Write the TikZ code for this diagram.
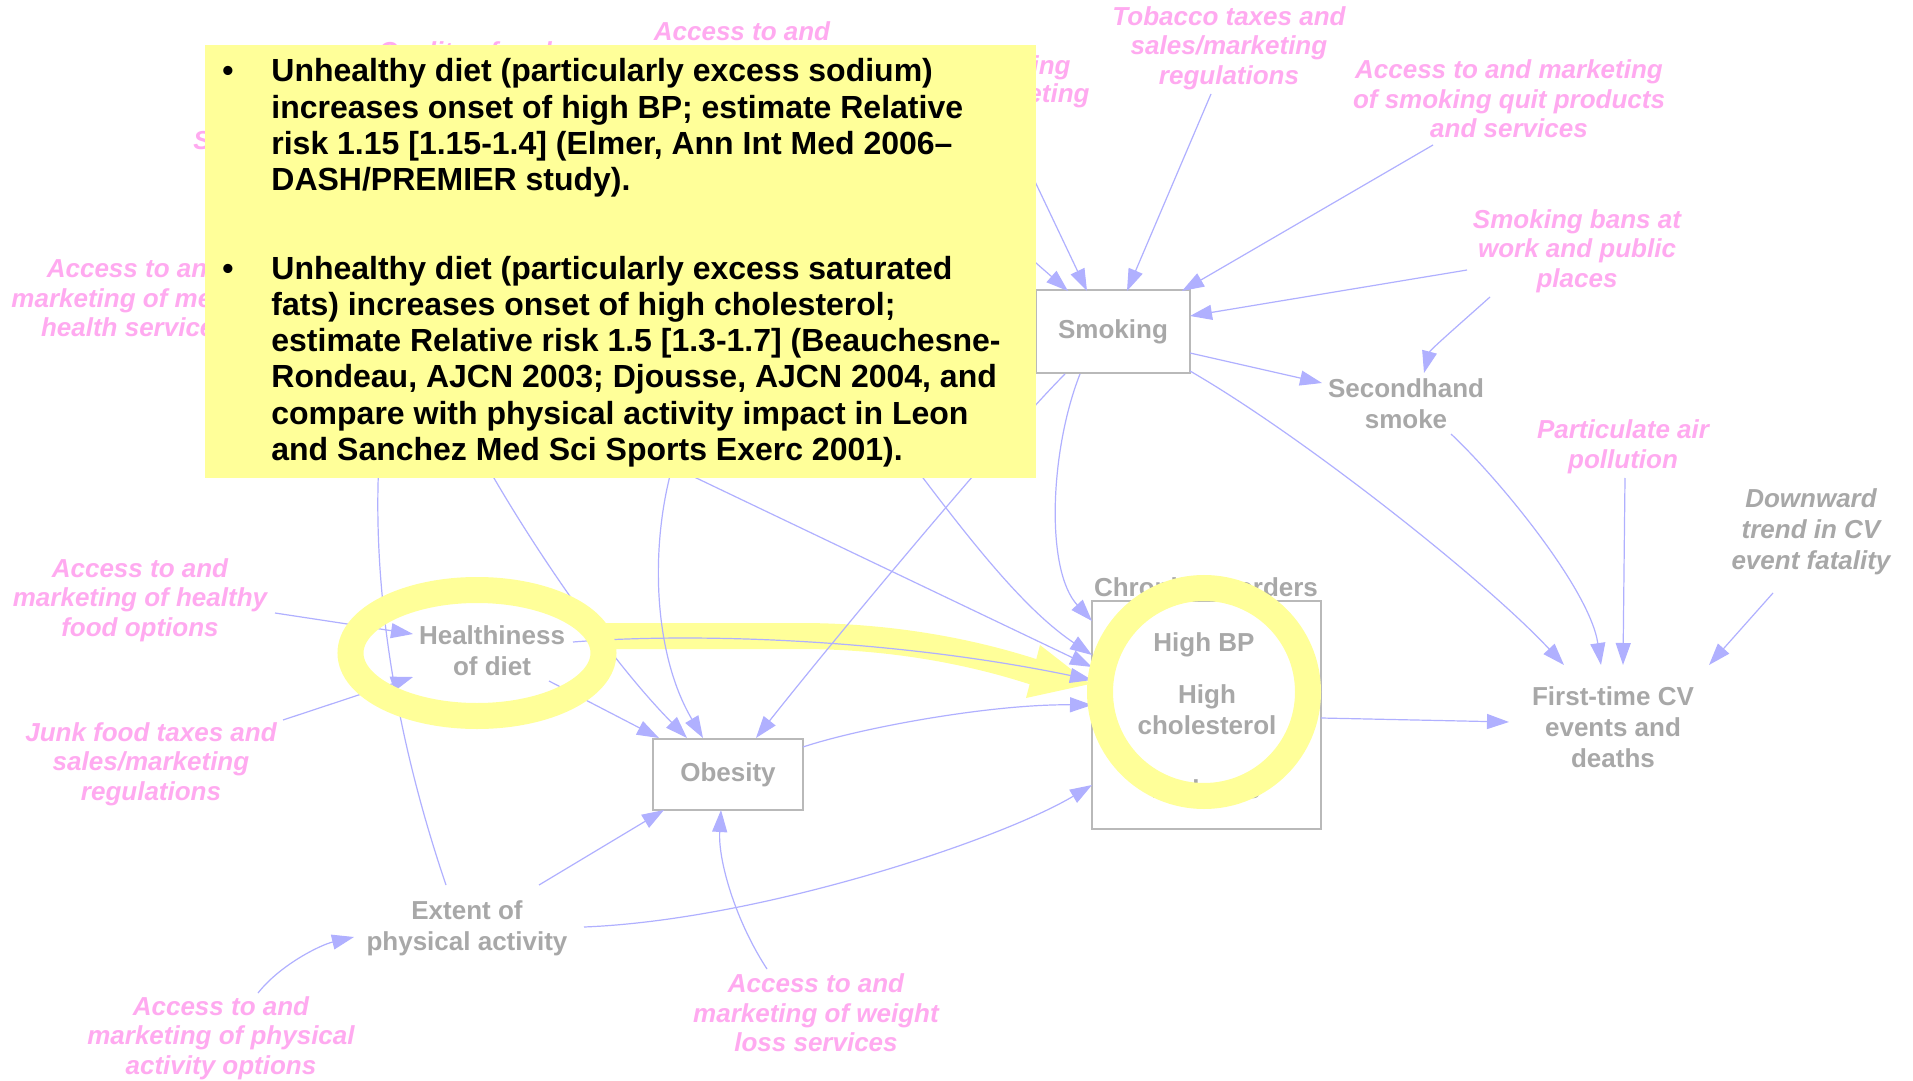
\documentclass[tikz,border=0pt]{standalone}
\usepackage{fontspec}
\setmainfont{Liberation Sans}
\usetikzlibrary{arrows.meta}
\definecolor{pinklab}{RGB}{255,170,240}
\definecolor{greylab}{RGB}{168,168,168}
\definecolor{boxline}{RGB}{185,185,185}
\definecolor{arrowc}{RGB}{176,176,255}
\definecolor{hilite}{RGB}{255,255,153}
\tikzset{
  lever/.style={text=pinklab, font=\fontsize{13}{14.75}\selectfont\bfseries\itshape, align=center, inner sep=0pt},
  var/.style={text=greylab, font=\fontsize{13}{15.5}\selectfont\bfseries, align=center, inner sep=0pt},
  stock/.style={var, draw=boxline, line width=0.75pt, fill=white},
  link/.style={draw=arrowc, line width=0.6pt, -{Triangle[length=11pt,width=7.5pt]}},
  ring/.style={draw=hilite, line width=13pt},
  note/.style={font=\fontsize{16}{18.15}\selectfont\bfseries, text=black, inner sep=0pt, anchor=base west},
  dot/.style={font=\fontsize{16}{18.15}\selectfont\bfseries, text=black, inner sep=0pt, anchor=base},
}
\begin{document}
\begin{tikzpicture}[x=0.5pt,y=-0.5pt]
\fill[white] (0,0) rectangle (1913,1081);
\useasboundingbox (0,0) rectangle (1913,1081);

% ---- policy levers (pink) ----
\node[lever] (tob)    at (1229,48)  {Tobacco taxes and\\sales/marketing\\regulations};
\node[lever] (quit)   at (1509,99)  {Access to and marketing\\of smoking quit products\\and services};
\node[lever] (bans)   at (1577,251) {Smoking bans at\\work and public\\places};
\node[lever] (air)    at (1623,447) {Particulate air\\pollution};
\node[lever] (food)   at (140,600)  {Access to and\\marketing of healthy\\food options};
\node[lever] (junk)   at (151,764)  {Junk food taxes and\\sales/marketing\\regulations};
\node[lever] (phys)   at (221,1038) {Access to and\\marketing of physical\\activity options};
\node[lever] (wt)     at (816,1013) {Access to and\\marketing of weight\\loss services};
\node[lever] (mental) at (135,298)  {Access to and\\marketing of mental\\health services};
\node[lever] (acc)    at (742,31)   {Access to and};
\node[lever] (qual)   at (465,54)   {Quality of and};
\node[lever, anchor=base west] (sfrag) at (193,149) {S};
\node[lever, anchor=base east] (smfrag) at (1071,75) {smoking};
\node[lever, anchor=base east] (mkfrag) at (1090,103) {marketing};

% ---- model variables (grey) ----
\node[stock, minimum width=77pt, minimum height=41.5pt] (smk) at (1113,331.5) {Smoking};
\node[var] (shs)  at (1406,404) {Secondhand\\smoke};
\node[var] (diet) at (492,651)  {Healthiness\\of diet};
\node[stock, minimum width=75pt, minimum height=35.5pt] (obes) at (728,774.5) {Obesity};
\node[var] (pa)   at (467,928)  {Extent of\\physical activity};
\node[stock, minimum width=114.5pt, minimum height=114pt] (chr) at (1206.5,715) {};
\node[var] (chrT)  at (1206,587) {Chronic disorders};
\node[var] (hbp)   at (1204,645) {High BP};
\node[var] (hchol) at (1207,710) {High\\cholesterol};
\node[var] (diab)  at (1206,789) {Diabetes};
\node[var] (cv)    at (1613,727) {First-time CV\\events and\\deaths};
\node[var, font=\fontsize{13}{15.5}\selectfont\bfseries\itshape] (trend) at (1811,532) {Downward\\trend in CV\\event fatality};

% free ends of links that run under the note
\coordinate (h1) at (1001,110);
\coordinate (h2) at (907,150);
\coordinate (h3) at (848,378);
\coordinate (h4) at (600,432);
\coordinate (h5) at (452,400);
\coordinate (h6) at (690,420);
\coordinate (h7) at (384,400);

% ---- highlighted pathway: diet -> chronic disorders ----
\coordinate (bandA) at (600,636);
\coordinate (bandB) at (800,636);
\coordinate (bandC) at (1034,672);
\draw[hilite, line width=13pt] (bandA) -- (bandB) .. controls (880,636) and (960,648) .. (bandC);
\coordinate (tipA) at (1090,684);
\coordinate (tipB) at (1040,645);
\coordinate (tipC) at (1026,698);
\fill[hilite] (tipA) -- (tipB) -- (tipC) -- cycle;

% ---- links ----
\draw[link] ([shift={(-18,46)}]tob.center) -- ([shift={(14,-40.5)}]smk.center);
\draw[link] ([shift={(-76,46)}]quit.center) -- ([shift={(69,-40.5)}]smk.center);
\draw[link] ([shift={(-110,19)}]bans.center) -- ([shift={(77,-15.5)}]smk.center);
\draw[link] (h1) -- ([shift={(-26,-40.5)}]smk.center);
\draw[link] (h2) -- ([shift={(-45,-40.5)}]smk.center);
\draw[link] ([shift={(77,21.5)}]smk.center) -- ([shift={(-84,-21)}]shs.center);
\draw[link] ([shift={(77,39.5)}]smk.center) .. controls (1301,435) and (1484,579) .. ([shift={(-49,-62)}]cv.center);
\draw[link] ([shift={(45,30)}]shs.center) .. controls (1500,480) and (1590,590) .. ([shift={(-12,-62)}]cv.center);
\draw[link] ([shift={(2,31)}]air.center) -- ([shift={(10,-62)}]cv.center);
\draw[link] ([shift={(-38,61)}]trend.center) -- ([shift={(96,-62)}]cv.center);
\draw[link] ([shift={(-87,46)}]bans.center) .. controls (1462,322) and (1430,350) .. ([shift={(18,-31)}]shs.center);
\draw[link] ([shift={(-48,42.5)}]smk.center) .. controls (1005,434) and (835,638) .. ([shift={(28,-36.5)}]obes.center);
\draw[link] ([shift={(-33,42.5)}]smk.center) .. controls (1050,450) and (1045,570) .. ([shift={(-114.5,-94)}]chr.center);
\draw[link] (h3) .. controls (940,500) and (1010,600) .. ([shift={(-114.5,-60)}]chr.center);
\draw[link] (h4) -- ([shift={(-114.5,-48)}]chr.center);
\draw[link] ([shift={(81,-9)}]diet.center) .. controls (700,632) and (900,640) .. ([shift={(-114.5,-35)}]chr.center);
\draw[link] ([shift={(75,-27.5)}]obes.center) .. controls (860,728) and (990,704) .. ([shift={(-114.5,-10)}]chr.center);
\draw[link] ([shift={(117,-1)}]pa.center) .. controls (760,920) and (1000,840) .. ([shift={(-114.5,70)}]chr.center);
\draw[link] ([shift={(114.5,3)}]chr.center) -- ([shift={(-104,-5)}]cv.center);
\draw[link] ([shift={(57,30)}]diet.center) -- ([shift={(-69,-36.5)}]obes.center);
\draw[link] (h5) .. controls (500,500) and (600,650) .. ([shift={(-41,-36.5)}]obes.center);
\draw[link] (h6) .. controls (650,500) and (645,640) .. ([shift={(-25,-36.5)}]obes.center);
\draw[link] ([shift={(72,-43)}]pa.center) -- ([shift={(-64,35.5)}]obes.center);
\draw[link] ([shift={(-49,-44)}]wt.center) .. controls (735,920) and (718,860) .. ([shift={(-7,35.5)}]obes.center);
\draw[link] ([shift={(37,-45)}]phys.center) .. controls (280,965) and (320,945) .. ([shift={(-113,9)}]pa.center);
\draw[link] ([shift={(135,13)}]food.center) -- ([shift={(-79,-17)}]diet.center);
\draw[link] ([shift={(132,-44)}]junk.center) -- ([shift={(-79,26)}]diet.center);
\draw[link] ([shift={(-21,-43)}]pa.center) .. controls (390,720) and (368,560) .. (h7);

% ---- highlight rings ----
\draw[ring] (diet.center) ++(-15,2) ellipse [x radius=126.5, y radius=63];
\draw[ring] (1204,692) circle [radius=104];

% ---- evidence note ----
\node[fill=hilite, inner sep=0pt, minimum width=415.5pt, minimum height=216.5pt] (notebox) at (620.5,261.5) {};
\node[dot] (b1) at (228,82) {•};
\node[dot] (b2) at (228,279) {•};
\node[note] (n1) at (271,82)    {Unhealthy diet (particularly excess sodium)};
\node[note] (n2) at (271,118.3) {increases onset of high BP; estimate Relative};
\node[note] (n3) at (271,154.6) {risk 1.15 [1.15-1.4] (Elmer, Ann Int Med 2006–};
\node[note] (n4) at (271,190.9) {DASH/PREMIER study).};
\node[note] (n5) at (271,279)   {Unhealthy diet (particularly excess saturated};
\node[note] (n6) at (271,315.3) {fats) increases onset of high cholesterol;};
\node[note] (n7) at (271,351.6) {estimate Relative risk 1.5 [1.3-1.7] (Beauchesne-};
\node[note] (n8) at (271,387.9) {Rondeau, AJCN 2003; Djousse, AJCN 2004, and};
\node[note] (n9) at (271,424.2) {compare with physical activity impact in Leon};
\node[note] (n10) at (271,460.5) {and Sanchez Med Sci Sports Exerc 2001).};
\end{tikzpicture}
\end{document}
